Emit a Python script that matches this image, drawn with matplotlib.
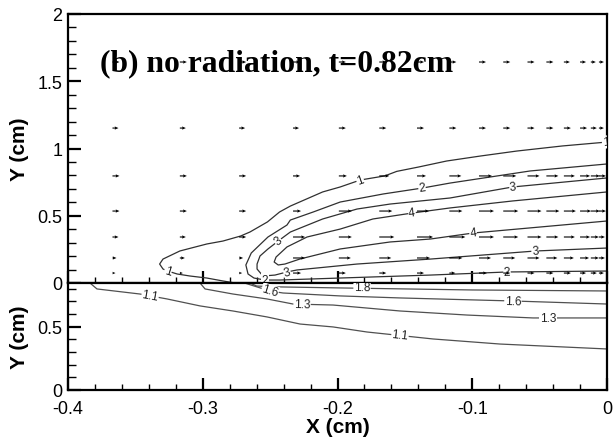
import numpy as np
import matplotlib
matplotlib.use('Agg')
import matplotlib.pyplot as plt
from matplotlib.ticker import MultipleLocator, FuncFormatter

plt.rcParams['font.family'] = ['Liberation Sans', 'DejaVu Sans']
plt.rcParams['axes.unicode_minus'] = False

# ---- velocity field, gas side (x in cm, y in cm, u relative) ----
vec_x = [-0.367, -0.317, -0.273, -0.233, -0.199, -0.169, -0.141, -0.117,
         -0.095, -0.077, -0.059, -0.045, -0.032, -0.020, -0.012, -0.006]
vec_y = [0.074, 0.186, 0.342, 0.535, 0.796, 1.152, 1.643]
u_rows = [
    [0.3, 0.3, 0.3, 0.8, 0.7, 0.7, 0.7, 0.6, 0.8, 0.7, 0.7, 0.7, 0.7, 0.6, 0.6, 0.5],
    [0.4, 0.5, 0.4, 1.2, 1.2, 1.2, 1.3, 1.3, 1.2, 1.2, 1.2, 1.1, 1.0, 0.9, 0.8, 0.6],
    [0.6, 0.6, 0.7, 1.2, 1.3, 1.5, 1.6, 1.6, 1.5, 1.5, 1.4, 1.2, 1.1, 1.0, 0.8, 0.6],
    [0.7, 0.7, 0.7, 0.8, 1.3, 1.3, 1.2, 1.3, 1.5, 1.5, 1.4, 1.3, 1.2, 1.1, 0.9, 0.7],
    [0.7, 0.7, 0.7, 0.7, 0.8, 1.0, 0.9, 1.2, 1.3, 1.3, 1.2, 1.2, 1.1, 1.0, 0.9, 0.7],
    [0.6, 0.6, 0.6, 0.6, 0.7, 0.7, 0.7, 0.7, 0.7, 0.7, 0.7, 0.7, 0.7, 0.7, 0.6, 0.5],
    [0.7, 0.7, 0.7, 0.7, 0.7, 0.7, 0.7, 0.7, 0.7, 0.7, 0.7, 0.7, 0.6, 0.6, 0.5, 0.5],
]

# ---- temperature contours, gas side ----
gas_c1 = [(0.0, 1.048), (-0.033, 1.019), (-0.067, 0.981), (-0.094, 0.944), (-0.119, 0.907),
          (-0.140, 0.862), (-0.156, 0.830), (-0.165, 0.796), (-0.183, 0.766), (-0.198, 0.714),
          (-0.211, 0.677), (-0.235, 0.572), (-0.243, 0.528), (-0.252, 0.454), (-0.265, 0.379),
          (-0.272, 0.349), (-0.285, 0.312), (-0.297, 0.290), (-0.317, 0.238), (-0.3295, 0.178),
          (-0.332, 0.141), (-0.3295, 0.104), (-0.326, 0.089), (-0.319, 0.067), (-0.3095, 0.052),
          (-0.297, 0.037), (-0.285, 0.015), (-0.276, 0.0)]
gas_c2 = [(0.0, 0.885), (-0.057, 0.833), (-0.1165, 0.743), (-0.137, 0.706), (-0.166, 0.662),
          (-0.198, 0.602), (-0.218, 0.528), (-0.235, 0.468), (-0.2375, 0.431), (-0.2516, 0.342),
          (-0.264, 0.223), (-0.268, 0.134), (-0.2664, 0.067), (-0.262, 0.037), (-0.254, 0.022),
          (-0.243, 0.022), (-0.198, 0.037), (-0.131, 0.059), (-0.074, 0.082), (0.0, 0.089)]
gas_c3 = [(0.0, 0.781), (-0.070, 0.714), (-0.1165, 0.632), (-0.161, 0.587), (-0.1855, 0.550),
          (-0.211, 0.476), (-0.235, 0.379), (-0.240, 0.342), (-0.244, 0.312), (-0.2516, 0.253),
          (-0.2575, 0.201), (-0.2597, 0.141), (-0.2597, 0.104), (-0.2553, 0.052), (-0.2464, 0.059),
          (-0.2375, 0.082), (-0.230, 0.097), (-0.1855, 0.141), (-0.131, 0.178), (-0.053, 0.238),
          (0.0, 0.260)]
gas_c4 = [(0.0, 0.677), (-0.070, 0.610), (-0.1165, 0.558), (-0.1447, 0.520), (-0.1737, 0.476),
          (-0.198, 0.401), (-0.2226, 0.342), (-0.2375, 0.268), (-0.2456, 0.193), (-0.247, 0.156),
          (-0.244, 0.134), (-0.239, 0.141), (-0.228, 0.178), (-0.198, 0.253), (-0.161, 0.305),
          (-0.131, 0.327), (-0.099, 0.372), (-0.050, 0.416), (0.0, 0.461)]
gas_lines = [gas_c1, gas_c2, gas_c3, gas_c4]
gas_labels = [('1', 0, -0.1833, 0.766), ('1', 0, -0.001, 1.048), ('1', 0, -0.3258, 0.089),
              ('2', 1, -0.1373, 0.706), ('2', 1, -0.0742, 0.082), ('2', 1, -0.2538, 0.026),
              ('3', 2, -0.0698, 0.714), ('3', 2, -0.0534, 0.238), ('3', 2, -0.2442, 0.312),
              ('3', 2, -0.2375, 0.082), ('4', 3, -0.1447, 0.520), ('4', 3, -0.0994, 0.372)]

# ---- temperature contours, solid side ----
sol_c11 = [(-0.3837, 0.845), (-0.3785, 0.798), (-0.3466, 0.758), (-0.3265, 0.719), (-0.302, 0.664),
           (-0.2776, 0.624), (-0.2523, 0.577), (-0.2278, 0.521), (-0.2033, 0.498), (-0.1781, 0.458),
           (-0.1291, 0.403), (-0.0794, 0.363), (0.0, 0.324)]
sol_c13 = [(-0.302, 0.845), (-0.2983, 0.798), (-0.2776, 0.758), (-0.2523, 0.719), (-0.233, 0.679),
           (-0.2033, 0.671), (-0.1536, 0.624), (-0.1039, 0.592), (-0.0549, 0.569), (0.0, 0.569)]
sol_c16 = [(-0.269, 0.845), (-0.2597, 0.814), (-0.2501, 0.782), (-0.2404, 0.766), (-0.1981, 0.743),
           (-0.1536, 0.727), (-0.0698, 0.703), (0.0, 0.679)]
sol_c18 = [(-0.265, 0.845), (-0.260, 0.821), (-0.2427, 0.814), (-0.1981, 0.806), (-0.100, 0.790),
           (0.0, 0.782)]
sol_lines = [sol_c11, sol_c13, sol_c16, sol_c18]
sol_labels = [('1.1', 0, -0.3391, 0.743), ('1.1', 0, -0.1536, 0.434), ('1.3', 1, -0.2263, 0.677),
              ('1.3', 1, -0.0438, 0.569), ('1.6', 2, -0.2501, 0.782), ('1.6', 2, -0.0698, 0.703),
              ('1.8', 3, -0.1818, 0.810)]

line_col = '#303030'


def label_line(ax, pts, x0, y0, txt):
    P = ax.transData.transform(np.array(pts))
    q = ax.transData.transform((x0, y0))
    best, ang = 1e9, 0.0
    for a, b in zip(P[:-1], P[1:]):
        d = b - a
        t = np.clip(np.dot(q - a, d) / max(np.dot(d, d), 1e-9), 0, 1)
        dist = np.hypot(*(a + t * d - q))
        if dist < best:
            best = dist
            ang = np.degrees(np.arctan2(d[1], d[0]))
    if ang > 90:
        ang -= 180
    if ang < -90:
        ang += 180
    ax.text(x0, y0, txt, rotation=ang, rotation_mode='anchor', ha='center', va='center',
            fontsize=8.5, color='#202020', zorder=3, clip_on=True,
            bbox=dict(fc='white', ec='none', pad=0.3))


fmt = FuncFormatter(lambda v, p: '%g' % (round(v, 3) + 0.0))

fig = plt.figure(figsize=(6.13, 4.39), dpi=100)
ax_top = fig.add_axes([68 / 613, 155 / 439, 539 / 613, 269 / 439])
ax_bot = fig.add_axes([68 / 613, 48 / 439, 539 / 613, 107 / 439])

ax_top.set_xlim(-0.4, 0)
ax_top.set_ylim(0, 2)
ax_bot.set_xlim(-0.4, 0)
ax_bot.set_ylim(0, 0.845)

for ax in (ax_top, ax_bot):
    for s in ax.spines.values():
        s.set_linewidth(1.6)
    ax.xaxis.set_major_locator(MultipleLocator(0.1))
    ax.xaxis.set_minor_locator(MultipleLocator(0.02))
    ax.yaxis.set_major_locator(MultipleLocator(0.5))
    ax.yaxis.set_minor_locator(MultipleLocator(0.1))
    ax.xaxis.set_major_formatter(fmt)
    ax.yaxis.set_major_formatter(fmt)
    ax.tick_params(which='both', direction='in', top=False, right=False, labelsize=13)
    ax.tick_params(axis='x', which='major', length=8.6, width=1.6, pad=7)
    ax.tick_params(axis='x', which='minor', length=4.3, width=1.0)
    ax.tick_params(axis='y', which='major', length=9.5, width=1.6, pad=4)
    ax.tick_params(axis='y', which='minor', length=5.5, width=1.0)
    ax.set_ylabel('Y (cm)', fontsize=15, fontweight='bold')
    ax.yaxis.set_label_coords(-0.072, 0.5)

ax_top.tick_params(axis='x', labelbottom=False)
ax_bot.set_xlabel('X (cm)', fontsize=15, fontweight='bold')
ax_bot.xaxis.set_label_coords(0.5, -0.25)

# gas-side isotherms
for pts in gas_lines:
    xs, ys = zip(*pts)
    ax_top.plot(xs, ys, color=line_col, lw=0.9, zorder=2)
for txt, k, lx, ly in gas_labels:
    label_line(ax_top, gas_lines[k], lx, ly, txt)

# velocity vectors
X, Y = np.meshgrid(vec_x, vec_y)
U = np.array(u_rows)
V = np.zeros_like(U)
ax_top.quiver(X, Y, U, V, pivot='tail', units='dots', width=1.1,
              scale_units='inches', scale=10, headwidth=3, headlength=3.5,
              headaxislength=3, color='black', zorder=4)

ax_top.text(-0.3763, 1.584, '(b) no radiation, t=0.82cm', fontfamily='Liberation Serif',
            fontweight='bold', fontsize=22.8, ha='left', va='baseline', zorder=2.5)

# solid-side isotherms
for pts in sol_lines:
    xs, ys = zip(*pts)
    ax_bot.plot(xs, ys, color='#505050', lw=0.9, zorder=2)
for txt, k, lx, ly in sol_labels:
    label_line(ax_bot, sol_lines[k], lx, ly, txt)

fig.savefig('out.png', dpi=100)
